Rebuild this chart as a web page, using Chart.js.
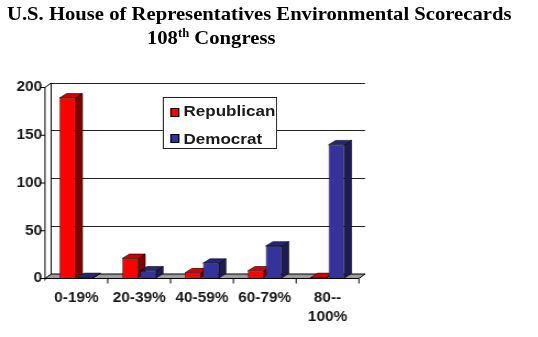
<!DOCTYPE html>
<html><head><meta charset="utf-8">
<script src="https://cdn.jsdelivr.net/npm/chart.js@4"></script>
<style>
html,body{margin:0;padding:0;background:#fff;overflow:hidden;width:538px;height:337px}
#wrap{position:absolute;left:0;top:0;width:489px;height:337px;transform:scaleX(1.1);transform-origin:0 0}
#c{position:absolute;left:0;top:0;width:489px;height:337px}
.t{position:absolute;font-family:"Liberation Serif","Times New Roman",serif;font-weight:bold;font-size:18.8px;line-height:1;white-space:nowrap;color:#000}
.t sup{font-size:11.5px;vertical-align:baseline;position:relative;top:-7px}
#legendBox{position:absolute;left:148.2px;top:97px;width:103.6px;height:52px;box-sizing:border-box;border:1px solid #222;background:#fff}
.sw{position:absolute;width:8.2px;height:9px;box-sizing:border-box;border:1px solid #000}
.lt{position:absolute;font-family:"Liberation Sans",Arial,sans-serif;font-weight:bold;font-size:15.5px;line-height:1;white-space:nowrap;color:#1a1a1a}
</style></head>
<body>
<div id="wrap">
<canvas id="c" width="489" height="337"></canvas>
<div class="t" style="left:6.4px;top:4.8px">U.S. House of Representatives Environmental Scorecards</div>
<div class="t" style="left:133.6px;top:29.1px">108<sup>th</sup> Congress</div>
<div id="legendBox"></div>
</div>
<script>
// ---- data ----
const categories = ['0-19%', '20-39%', '40-59%', '60-79%', ['80--', '100%']];
const seriesNames = ['Republican', 'Democrat'];
const republican = [189, 21, 6, 8, 1];
const democrat = [1, 8, 16, 34, 140];
const yTicks = [0, 50, 100, 150, 200];

// ---- styling ----
const FRONT = ['#ff0000', '#333399'];
const SIDE = ['#800000', '#1c1c52'];
const TOP = ['#d00000', '#262678'];
const DX = -5.5, DY = 4.5;      // front plane offset relative to back wall
const DEPX = 6.4, DEPY = 4.4;   // bar depth
const FONT = '"Liberation Sans", Arial, sans-serif';

// HTML legend built from series names / colors
const wrap = document.getElementById('wrap');
const legendPos = [{sw: 107.5, tx: 102.5}, {sw: 134, tx: 130.8}];
seriesNames.forEach((name, i) => {
  const s = document.createElement('div');
  s.className = 'sw';
  s.style.left = '154.5px'; s.style.top = legendPos[i].sw + 'px';
  s.style.background = FRONT[i];
  wrap.appendChild(s);
  const t = document.createElement('div');
  t.className = 'lt';
  t.style.left = '166.8px'; t.style.top = legendPos[i].tx + 'px';
  t.textContent = name;
  wrap.appendChild(t);
});

const threeD = {
  id: 'threeD',
  beforeDatasetsDraw(chart) {
    const {ctx, chartArea: a, scales: {x, y}} = chart;
    const B = y.getPixelForValue(yTicks[0]);
    const T = y.getPixelForValue(yTicks[yTicks.length - 1]);
    ctx.save();
    // floor
    ctx.beginPath();
    ctx.moveTo(a.left, B); ctx.lineTo(a.right, B);
    ctx.lineTo(a.right + DX, B + DY); ctx.lineTo(a.left + DX, B + DY);
    ctx.closePath();
    ctx.fillStyle = '#9c9c9c'; ctx.fill();
    ctx.strokeStyle = '#000'; ctx.lineWidth = 1; ctx.stroke();
    // front vertical axis
    ctx.beginPath();
    ctx.moveTo(a.left, T); ctx.lineTo(a.left + DX, T + DY); ctx.lineTo(a.left + DX, B + DY + 2);
    ctx.stroke();
    yTicks.forEach(v => {
      const py = y.getPixelForValue(v) + DY;
      ctx.beginPath(); ctx.moveTo(a.left + DX - 4, py); ctx.lineTo(a.left + DX, py); ctx.stroke();
    });
    const n = categories.length, cw = (a.right - a.left) / n;
    for (let i = 1; i <= n; i++) {
      const px = a.left + i * cw + DX;
      ctx.beginPath(); ctx.moveTo(px, B + DY); ctx.lineTo(px, B + DY + 5); ctx.stroke();
    }
    ctx.restore();
    // bars: side & top faces, then fronts are drawn by Chart.js in the same translated frame
    ctx.save();
    ctx.translate(DX, DY);
    chart.data.datasets.forEach((ds, di) => {
      const meta = chart.getDatasetMeta(di);
      meta.data.forEach(el => {
        const p = el.getProps(['x', 'y', 'base', 'width'], true);
        const l = p.x - p.width / 2, r = p.x + p.width / 2;
        ctx.lineWidth = 0.6; ctx.strokeStyle = '#000';
        ctx.beginPath();
        ctx.moveTo(r, p.y); ctx.lineTo(r + DEPX, p.y - DEPY);
        ctx.lineTo(r + DEPX, p.base - DEPY); ctx.lineTo(r, p.base); ctx.closePath();
        ctx.fillStyle = SIDE[di]; ctx.fill(); ctx.stroke();
        ctx.beginPath();
        ctx.moveTo(l, p.y); ctx.lineTo(l + DEPX, p.y - DEPY);
        ctx.lineTo(r + DEPX, p.y - DEPY); ctx.lineTo(r, p.y); ctx.closePath();
        ctx.fillStyle = TOP[di]; ctx.fill(); ctx.stroke();
      });
    });
  },
  afterDatasetsDraw(chart) { chart.ctx.restore(); }
};

const tickFont = {family: FONT, size: 14, weight: 'bold', lineHeight: 1.4};

new Chart(document.getElementById('c'), {
  type: 'bar',
  data: {
    labels: categories,
    datasets: [
      {label: seriesNames[0], data: republican, backgroundColor: FRONT[0], borderColor: '#000', borderWidth: 0.6,
       categoryPercentage: 0.571, barPercentage: 0.889, clip: false},
      {label: seriesNames[1], data: democrat, backgroundColor: FRONT[1], borderColor: '#000', borderWidth: 0.6,
       categoryPercentage: 0.571, barPercentage: 0.889, clip: false}
    ]
  },
  options: {
    responsive: false, animation: false, devicePixelRatio: 1,
    layout: {padding: {top: 83, right: 157.2, left: 0, bottom: 0}},
    plugins: {legend: {display: false}, title: {display: false}, tooltip: {enabled: false}},
    scales: {
      x: {
        offset: true,
        grid: {display: false}, border: {display: false},
        ticks: {font: tickFont, color: '#1a1a1a', padding: 6, labelOffset: -5.5, maxRotation: 0, autoSkip: false},
        afterFit(s) { s.height = 63; }
      },
      y: {
        min: yTicks[0], max: yTicks[yTicks.length - 1],
        afterFit(s) { s.width = 46.4; },
        afterBuildTicks(s) { s.ticks = yTicks.map(v => ({value: v})); },
        ticks: {font: tickFont, color: '#1a1a1a', padding: 8, labelOffset: 4.5},
        grid: {color: '#222', lineWidth: 1, drawTicks: false},
        border: {display: true, color: '#000', width: 1}
      }
    }
  },
  plugins: [threeD]
});
</script>
</body></html>
